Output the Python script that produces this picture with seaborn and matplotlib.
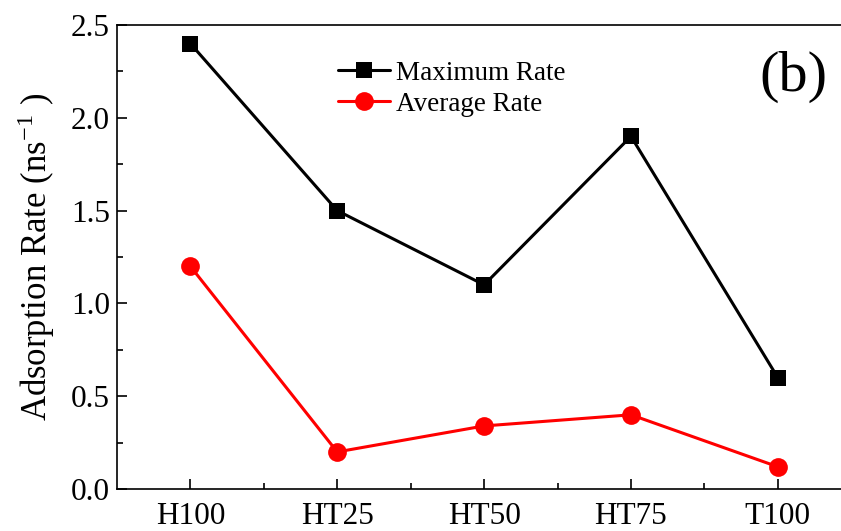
import matplotlib
matplotlib.use("Agg")
import matplotlib.pyplot as plt
import seaborn as sns
import pandas as pd
from matplotlib.ticker import MultipleLocator, FixedLocator

samples = ["H100", "HT25", "HT50", "HT75", "T100"]
max_rate = [2.4, 1.5, 1.1, 1.9, 0.6]
avg_rate = [1.2, 0.2, 0.34, 0.4, 0.12]

df = pd.DataFrame({
    "sample": samples * 2,
    "rate": max_rate + avg_rate,
    "series": ["Maximum Rate"] * len(samples) + ["Average Rate"] * len(samples),
})

sns.set_style("ticks")
plt.rcParams["font.family"] = ["Liberation Serif", "DejaVu Serif"]
plt.rcParams["mathtext.fontset"] = "stix"
plt.rcParams["text.color"] = "black"
plt.rcParams["axes.labelcolor"] = "black"
plt.rcParams["xtick.color"] = "black"
plt.rcParams["ytick.color"] = "black"
plt.rcParams["axes.edgecolor"] = "black"

fig = plt.figure(figsize=(8.41, 5.31), dpi=100)
ax = fig.add_axes([0.139, 0.079, 0.861, 0.874])

sq_size, ci_size, lw = 11, 13.5, 2.2

sns.lineplot(data=df, x="sample", y="rate", hue="series", style="series",
             palette={"Maximum Rate": "black", "Average Rate": "#ff0000"},
             markers={"Maximum Rate": "s", "Average Rate": "o"},
             dashes=False, sort=False, linewidth=lw, markeredgewidth=0,
             ax=ax)
for line in ax.lines:
    line.set_markersize(sq_size if line.get_marker() == "s" else ci_size)

ax.set_xlim(-0.5, 4.43)
ax.set_ylim(0, 2.5)
ax.yaxis.set_major_locator(MultipleLocator(0.5))
ax.yaxis.set_minor_locator(MultipleLocator(0.25))
ax.xaxis.set_minor_locator(FixedLocator([0.5, 1.5, 2.5, 3.5]))
ax.yaxis.set_major_formatter(matplotlib.ticker.FormatStrFormatter("%.1f"))
ax.tick_params(which="both", direction="in", width=1.2, labelsize=22.5,
               colors="black")
ax.tick_params(which="major", length=7)
ax.tick_params(which="minor", length=4.5)
ax.tick_params(axis="x", pad=9)
ax.tick_params(axis="y", pad=5)

for s in ["left", "bottom", "top"]:
    ax.spines[s].set_linewidth(1.2)
    ax.spines[s].set_color("black")
ax.spines["right"].set_visible(False)

ax.set_xlabel("")
ax.set_ylabel("Adsorption Rate (ns$^{\\mathregular{-1}}$ )", fontsize=25, labelpad=10)

handles, labels = ax.get_legend_handles_labels()
for h in handles:
    h.set_linewidth(lw)
    h.set_markeredgewidth(0)
    h.set_markersize(sq_size if h.get_marker() == "s" else ci_size)
ax.legend(handles, labels, frameon=False, fontsize=19.5, handlelength=1.9,
          handletextpad=0.25, labelspacing=0.22, loc="upper left",
          bbox_to_anchor=(0.283, 0.958), borderaxespad=0.2)

ax.text(0.934, 0.888, "(b)", transform=ax.transAxes, fontsize=42,
        ha="center", va="center")

fig.savefig("out.png", dpi=100)
